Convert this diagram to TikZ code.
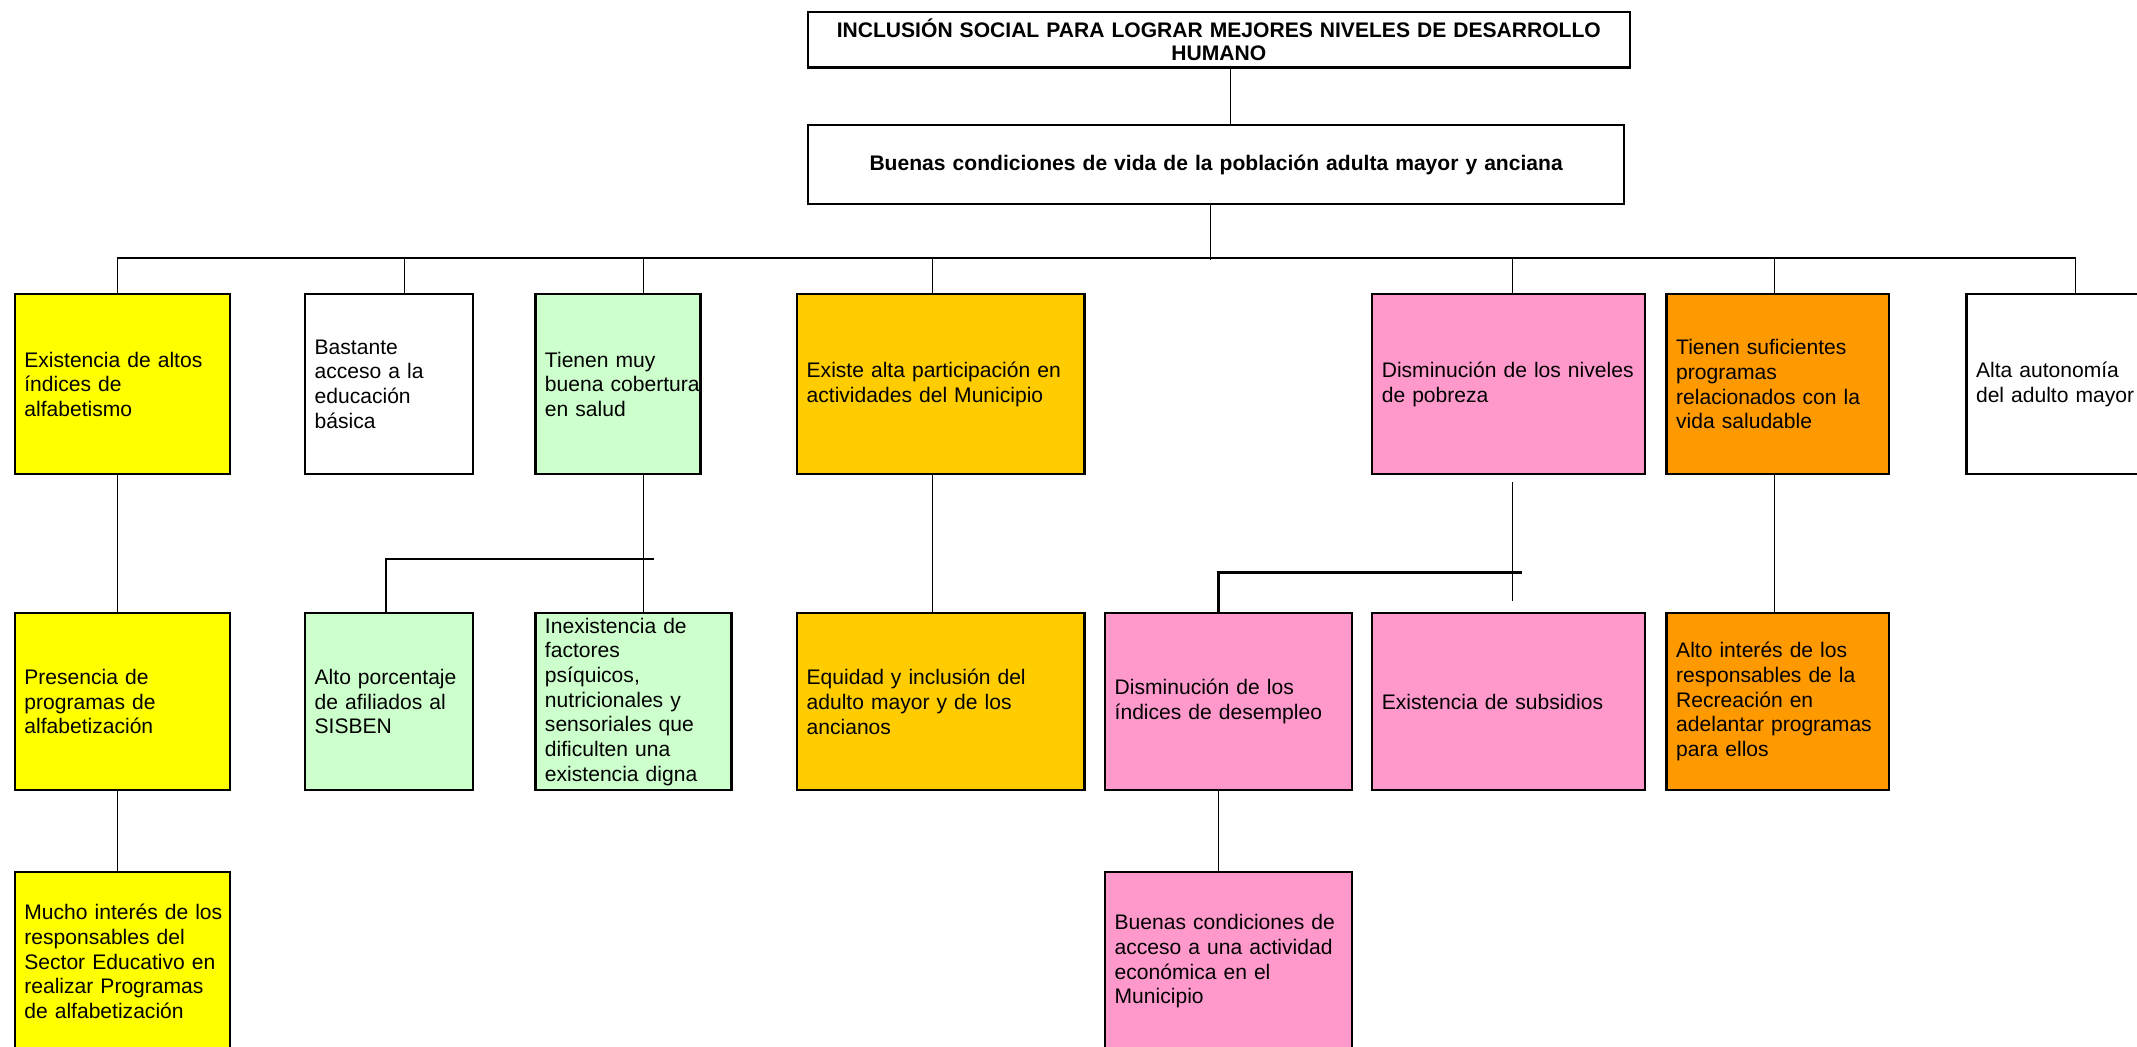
\documentclass[tikz,border=0pt]{standalone}
\usepackage{fontspec}
\setmainfont{Liberation Sans}
\usepackage{tikz}

\definecolor{amarillo}{HTML}{FFFF00}
\definecolor{verde}{HTML}{CCFFCC}
\definecolor{oro}{HTML}{FFCC00}
\definecolor{rosa}{HTML}{FF99CC}
\definecolor{naranja}{HTML}{FF9900}

\begin{document}
\begin{tikzpicture}[x=0.02cm, y=-0.02cm,
   caja/.style ={draw, line width=1pt, anchor=north west, align=left, inner xsep=0.14cm, inner ysep=0.02cm, font=\fontsize{8.8}{10.3}\selectfont},
   titulo/.style ={draw, line width=1pt, anchor=north west, align=center, inner sep=0.1cm, font=\bfseries\fontsize{8.8}{9.6}\selectfont},
   fila1/.style ={caja, minimum height=2.64cm},
   fila2/.style ={caja, minimum height=2.6cm},
   fila3/.style ={caja, minimum height=2.62cm},
   enlace/.style ={line width=0.5pt},
   barra/.style ={line width=0.9pt}]
   \useasboundingbox (0,0) rectangle (1568,768);
   \clip (0,0) rectangle (1568,768);

   \node[titulo, text width=11.86cm, minimum height=0.78cm] (T1) at (592,8) {INCLUSIÓN SOCIAL PARA LOGRAR MEJORES NIVELES DE DESARROLLO\\HUMANO};
   \node[titulo, text width=11.78cm, minimum height=1.16cm] (T2) at (592,91) {Buenas condiciones de vida de la población adulta mayor y anciana};

   % primer nivel
   \node[fila1, fill=amarillo, text width=2.88cm] (A1) at (10,215) {Existencia de altos\\índices de\\alfabetismo};
   \node[fila1, text width=2.18cm] (B1) at (223,215) {Bastante\\acceso a la\\educación\\básica};
   \node[fila1, fill=verde, text width=2.14cm] (C1) at (392,215) {Tienen muy\\\mbox{buena cobertura}\\en salud};
   \node[fila1, fill=oro, text width=3.94cm] (D1) at (584,215) {Existe alta participación en\\actividades del Municipio};
   \node[fila1, fill=rosa, text width=3.72cm] (E1) at (1006,215) {Disminución de los niveles\\de pobreza};
   \node[fila1, fill=naranja, text width=2.98cm] (F1) at (1222,215) {Tienen suficientes\\programas\\relacionados con la\\vida saludable};
   \node[fila1, text width=2.68cm] (G1) at (1442,215) {Alta autonomía\\del adulto mayor};

   % segundo nivel
   \node[fila2, fill=amarillo, text width=2.88cm] (A2) at (10,449) {Presencia de\\programas de\\alfabetización};
   \node[fila2, fill=verde, text width=2.18cm] (C2a) at (223,449) {Alto porcentaje\\de afiliados al\\SISBEN};
   \node[fila2, fill=verde, text width=2.6cm] (C2b) at (392,449) {Inexistencia de\\factores\\psíquicos,\\nutricionales y\\sensoriales que\\dificulten una\\existencia digna};
   \node[fila2, fill=oro, text width=3.94cm] (D2) at (584,449) {Equidad y inclusión del\\adulto mayor y de los\\ancianos};
   \node[fila2, fill=rosa, text width=3.34cm] (E2a) at (810,449) {Disminución de los\\índices de desempleo};
   \node[fila2, fill=rosa, text width=3.72cm] (E2b) at (1006,449) {Existencia de subsidios};
   \node[fila2, fill=naranja, text width=2.98cm] (F2) at (1222,449) {Alto interés de los\\responsables de la\\Recreación en\\adelantar programas\\para ellos};

   % tercer nivel
   \node[fila3, fill=amarillo, text width=2.88cm] (A3) at (10,639) {\mbox{Mucho interés de los}\\responsables del\\Sector Educativo en\\realizar Programas\\de alfabetización};
   \node[fila3, fill=rosa, text width=3.34cm] (E3) at (810,639) {Buenas condiciones de\\acceso a una actividad\\económica en el\\Municipio};

   \coordinate (bus) at (888,191);
   \coordinate (bw) at (86,189);
   \coordinate (be) at (1523,189);
   \coordinate (cx) at (472,410);
   \coordinate (cf) at (480,410);
   \coordinate (ex) at (1110,420);
   \coordinate (ef) at (1117,420);

   \draw[enlace] (T1.south -| 903,0) to (T2.north -| 903,0);
   \draw[enlace] (T2.south -| bus) to (bus);
   \draw[barra] (bw) to (be);
   \foreach \x/\n in {86/A1, 297/B1, 472/C1, 684/D1, 1110/E1, 1302/F1, 1523/G1}
      \draw[enlace] (\x,189) to (\x,189 |- \n.north);

   \foreach \x/\n/\m in {86/A1/A2, 684/D1/D2, 1302/F1/F2, 86/A2/A3, 894/E2a/E3}
      \draw[enlace] (\n.south -| \x,0) to (\m.north -| \x,0);

   \draw[enlace] (C1.south -| cx) to (C2b.north -| cx);
   \draw[barra] (C2a.north -| 283,0) |- (cf);
   \draw[enlace, shorten <=0.1cm, shorten >=0.16cm] (E1.south -| ex) to (E2b.north -| ex);
   \draw[barra] (E2a.north -| 894,0) |- (ef);
\end{tikzpicture}
\end{document}
